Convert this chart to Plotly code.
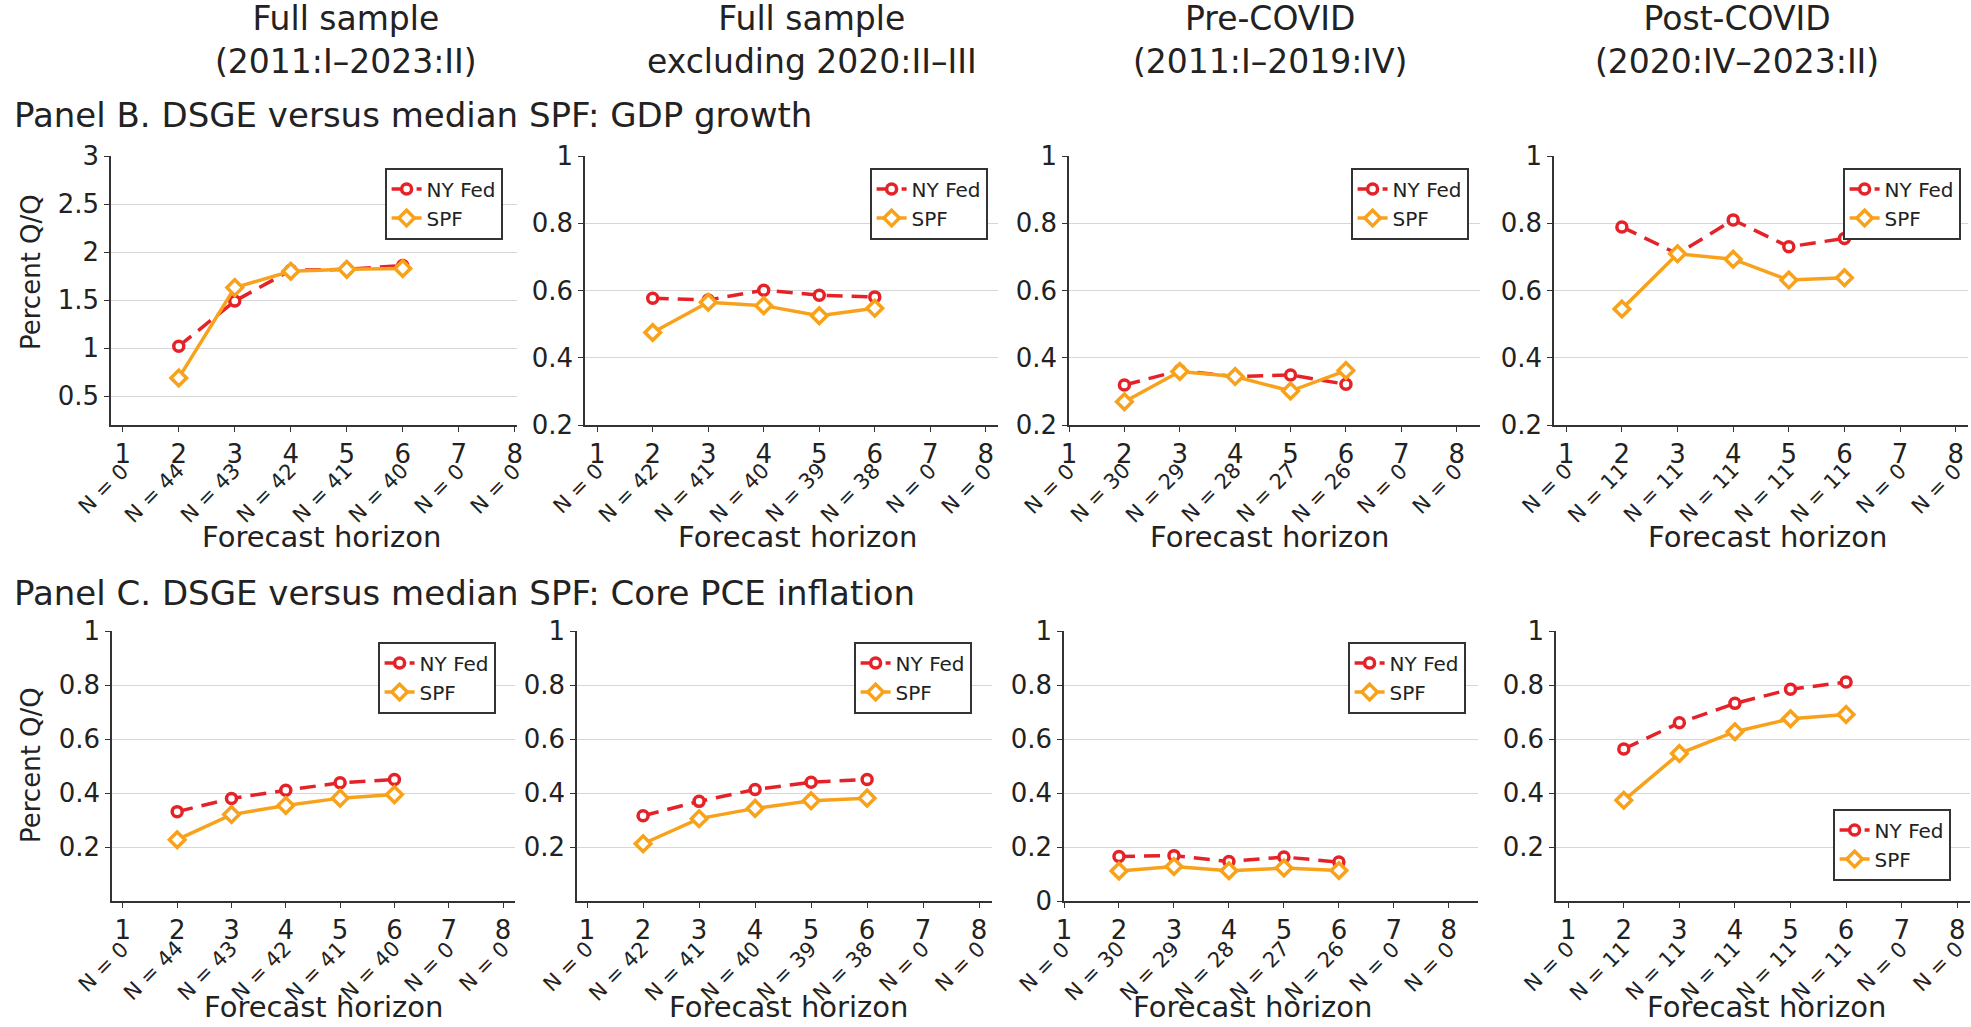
import plotly.graph_objects as go

W, H = 1971, 1027

# ---------------- data ----------------
horizons = [1, 2, 3, 4, 5, 6, 7, 8]
obs_horizons = [2, 3, 4, 5, 6]

column_titles = ["Full sample<br>(2011:I–2023:II)",
                 "Full sample<br>excluding 2020:II–III",
                 "Pre-COVID<br>(2011:I–2019:IV)",
                 "Post-COVID<br>(2020:IV–2023:II)"]
row_titles = ["Panel B. DSGE versus median SPF: GDP growth",
              "Panel C. DSGE versus median SPF: Core PCE inflation"]
series_names = ["NY Fed", "SPF"]
x_title = "Forecast horizon"
y_title = "Percent Q/Q"

n_full = [0, 44, 43, 42, 41, 40, 0, 0]
n_excl = [0, 42, 41, 40, 39, 38, 0, 0]
n_pre = [0, 30, 29, 28, 27, 26, 0, 0]
n_post = [0, 11, 11, 11, 11, 11, 0, 0]

# Panel B: GDP growth
gdp_nyfed_full = [1.02, 1.49, 1.81, 1.82, 1.86]
gdp_spf_full = [0.69, 1.63, 1.80, 1.82, 1.83]
gdp_nyfed_excl = [0.577, 0.572, 0.601, 0.586, 0.581]
gdp_spf_excl = [0.475, 0.565, 0.555, 0.525, 0.547]
gdp_nyfed_pre = [0.319, 0.362, 0.344, 0.349, 0.321]
gdp_spf_pre = [0.269, 0.359, 0.344, 0.301, 0.362]
gdp_nyfed_post = [0.789, 0.709, 0.810, 0.730, 0.755]
gdp_spf_post = [0.545, 0.709, 0.693, 0.631, 0.638]

# Panel C: Core PCE inflation
pce_nyfed_full = [0.331, 0.380, 0.410, 0.438, 0.450]
pce_spf_full = [0.227, 0.320, 0.354, 0.381, 0.394]
pce_nyfed_excl = [0.316, 0.369, 0.413, 0.440, 0.450]
pce_spf_excl = [0.212, 0.305, 0.343, 0.371, 0.381]
pce_nyfed_pre = [0.165, 0.168, 0.146, 0.163, 0.144]
pce_spf_pre = [0.111, 0.128, 0.112, 0.122, 0.113]
pce_nyfed_post = [0.563, 0.660, 0.732, 0.784, 0.811]
pce_spf_post = [0.373, 0.546, 0.627, 0.675, 0.691]

yticks_gdp_full = [0.5, 1, 1.5, 2, 2.5, 3]
yticks_unit = [0.2, 0.4, 0.6, 0.8, 1]
yticks_unit0 = [0, 0.2, 0.4, 0.6, 0.8, 1]

panel_data = [
    (gdp_nyfed_full, gdp_spf_full, n_full, yticks_gdp_full),
    (gdp_nyfed_excl, gdp_spf_excl, n_excl, yticks_unit),
    (gdp_nyfed_pre, gdp_spf_pre, n_pre, yticks_unit),
    (gdp_nyfed_post, gdp_spf_post, n_post, yticks_unit),
    (pce_nyfed_full, pce_spf_full, n_full, yticks_unit),
    (pce_nyfed_excl, pce_spf_excl, n_excl, yticks_unit),
    (pce_nyfed_pre, pce_spf_pre, n_pre, yticks_unit0),
    (pce_nyfed_post, pce_spf_post, n_post, yticks_unit),
]

# ---------------- layout geometry (pixels) ----------------
# (left, right, top, bottom, xrange, yrange, legend_right, legend_top)
geom = [
    (111, 517, 156, 425, [0.79, 8.04], [0.2, 3], 503, 168),
    (585, 998, 156, 425, [0.78, 8.22], [0.2, 1], 988, 168),
    (1069, 1480, 156, 425, [1.0, 8.42], [0.2, 1], 1469, 168),
    (1554, 1968, 156, 425, [0.78, 8.22], [0.2, 1], 1961, 168),
    (112, 515, 631, 901, [0.80, 8.22], [0, 1], 496, 642),
    (577, 992, 631, 901, [0.82, 8.23], [0, 1], 972, 642),
    (1064, 1478, 631, 901, [1.0, 8.53], [0, 1], 1466, 642),
    (1556, 1970, 631, 901, [0.78, 8.23], [0, 1], 1951, 809),
]
col_title_x = [346, 812, 1270, 1737]
xtitle_x = [321, 797, 1269, 1767, 323, 788, 1252, 1766]

RED = "#e62229"
ORANGE = "#f8a21c"
TXT = "#222222"
FONT = "DejaVu Sans"

fig = go.Figure()
layout = dict(width=W, height=H, autosize=False,
              margin=dict(l=0, r=0, t=0, b=0, pad=0),
              paper_bgcolor="white", plot_bgcolor="white",
              font=dict(family=FONT, color=TXT), annotations=[])

def px_x(p):
    return p / W

def px_y(p):
    return 1 - p / H

for i, ((ny, spf, nlist, yt), g) in enumerate(zip(panel_data, geom)):
    left, right, top, bottom, xr, yr, lgr, lgt = g
    k = i + 1
    xa = "x" if k == 1 else f"x{k}"
    ya = "y" if k == 1 else f"y{k}"
    lg = "legend" if k == 1 else f"legend{k}"
    fig.add_trace(go.Scatter(
        x=obs_horizons, y=ny, name=series_names[0], mode="lines+markers",
        xaxis=xa, yaxis=ya, legend=lg,
        line=dict(color=RED, width=3.5, dash="16px,9px"),
        marker=dict(symbol="circle", size=10, color="white",
                    line=dict(color=RED, width=3.5))))
    fig.add_trace(go.Scatter(
        x=obs_horizons, y=spf, name=series_names[1], mode="lines+markers",
        xaxis=xa, yaxis=ya, legend=lg,
        line=dict(color=ORANGE, width=3.5),
        marker=dict(symbol="diamond", size=12, color="white",
                    line=dict(color=ORANGE, width=3.5))))

    xkey = "xaxis" if k == 1 else f"xaxis{k}"
    ykey = "yaxis" if k == 1 else f"yaxis{k}"
    layout[xkey] = dict(domain=[px_x(left), px_x(right)], range=xr, anchor=ya,
                        automargin=False,
                        tickvals=horizons, ticktext=[str(h) for h in horizons],
                        showgrid=False, zeroline=False, showline=True,
                        linecolor="#333333", linewidth=1.6,
                        ticks="outside", ticklen=5, tickwidth=1.3, tickcolor="#333333",
                        tickfont=dict(size=26, family=FONT, color=TXT))
    layout[ykey] = dict(domain=[px_y(bottom), px_y(top)], range=yr, anchor=xa,
                        automargin=False,
                        tickvals=yt, ticktext=[f"{v:g}" for v in yt],
                        showgrid=True, gridcolor="#d6d6d6", gridwidth=1.2,
                        zeroline=False, showline=True,
                        linecolor="#333333", linewidth=1.6,
                        ticks="outside", ticklen=5, tickwidth=1.3, tickcolor="#333333",
                        tickfont=dict(size=26, family=FONT, color=TXT))
    layout[lg] = dict(x=px_x(lgr), y=px_y(lgt), xanchor="right", yanchor="top",
                      xref="paper", yref="paper",
                      bgcolor="white", bordercolor="#333333", borderwidth=1.6,
                      font=dict(size=20, family=FONT, color=TXT),
                      tracegroupgap=0, traceorder="normal")

    # N = ... labels under the ticks
    n_top = 456 if i < 4 else 934
    for h, n in zip(horizons, nlist):
        layout["annotations"].append(dict(
            x=h, xref=xa, y=px_y(n_top), yref="paper",
            text=f"N = {n}", showarrow=False, textangle=-45,
            xanchor="right", yanchor="top", xshift=13,
            font=dict(size=21, family=FONT, color=TXT)))
    # x-axis title
    if i < 4:
        layout["annotations"].append(dict(
            x=px_x(xtitle_x[i]), y=px_y(537), xref="paper", yref="paper",
            text=x_title, showarrow=False, xanchor="center", yanchor="middle",
            font=dict(size=29, family=FONT, color=TXT)))
    else:
        layout["annotations"].append(dict(
            x=px_x(xtitle_x[i]), y=px_y(1026), xref="paper", yref="paper",
            text=x_title, showarrow=False, xanchor="center", yanchor="bottom",
            font=dict(size=29, family=FONT, color=TXT)))

# column titles
for cx, t in zip(col_title_x, column_titles):
    layout["annotations"].append(dict(
        x=px_x(cx), y=px_y(40), xref="paper", yref="paper", text=t,
        showarrow=False, xanchor="center", yanchor="middle",
        font=dict(size=33, family=FONT, color=TXT)))

# row (panel) titles
for ty, t in zip([115, 593], row_titles):
    layout["annotations"].append(dict(
        x=px_x(12), y=px_y(ty), xref="paper", yref="paper", text=t,
        showarrow=False, xanchor="left", yanchor="middle",
        font=dict(size=34, family=FONT, color=TXT)))

# y-axis titles
for ty in [272, 765]:
    layout["annotations"].append(dict(
        x=px_x(31), y=px_y(ty), xref="paper", yref="paper", text=y_title,
        showarrow=False, xanchor="center", yanchor="middle", textangle=-90,
        font=dict(size=26, family=FONT, color=TXT)))

fig.update_layout(**layout)
fig.write_html("out.html", config={"displayModeBar": False},
               post_script="document.body.style.margin='0';document.body.style.overflow='hidden';")
